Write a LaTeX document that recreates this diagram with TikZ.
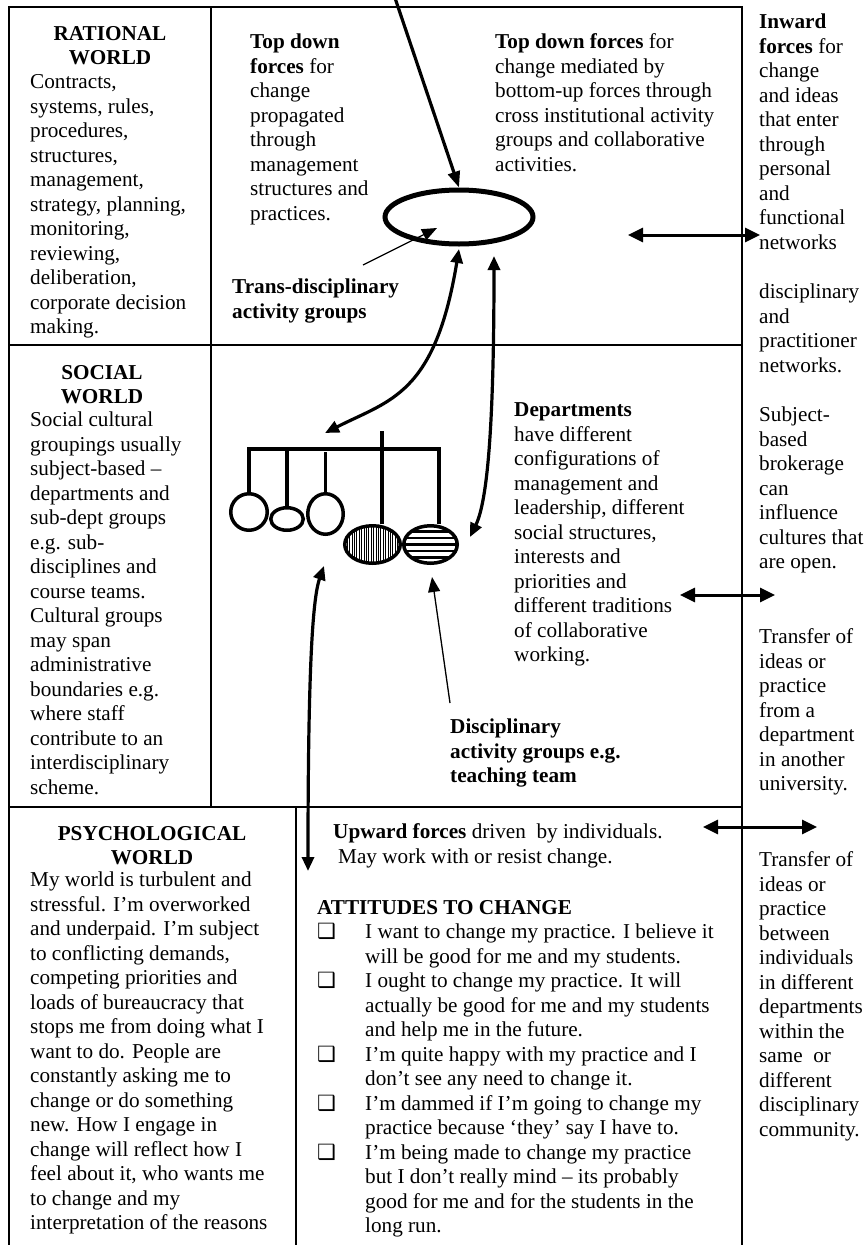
\documentclass[tikz,border=0pt]{standalone}
\usepackage{fontspec}
\setmainfont{Liberation Serif}
\newfontfamily\dejavu{DejaVu Sans}
\usepackage{tikz}
\usetikzlibrary{arrows.meta,shapes.geometric}

\newcommand{\bodyfont}{\fontsize{21.2}{24.5}\selectfont}
\newcommand{\tickbox}{\makebox[48pt][l]{{\dejavu\fontsize{21}{21}\selectfont ❑}}}
\newcommand{\tickgap}{\hspace*{48pt}}

\tikzset{
  frame/.style={line width=2.8pt},
  txt/.style={anchor=north west,inner sep=0pt,align=left,font=\bodyfont},
  title/.style={anchor=north,inner sep=0pt,align=center,font=\bodyfont\bfseries},
  ball/.style={draw,ellipse,line width=3.5pt,inner sep=0pt},
  mobile/.style={line width=3.2pt},
  arr/.style={line width=3.2pt},
  thinarr/.style={line width=1.3pt,-{Triangle[length=15pt,width=12pt]}},
  harr/.style={line width=3pt,{Triangle[length=15pt,width=14pt]}-{Triangle[length=15pt,width=14pt]}},
  vhatch/.style={path picture={\foreach \k in {-30,-27.6,...,30}
      \draw[line width=1.1pt] ([xshift=\k pt]path picture bounding box.north) -- ([xshift=\k pt]path picture bounding box.south);}},
  hhatch/.style={path picture={\foreach \k in {-19.5,-13,...,19.5}
      \draw[line width=2.4pt] ([yshift=\k pt]path picture bounding box.west) -- ([yshift=\k pt]path picture bounding box.east);}}
}

\begin{document}
\begin{tikzpicture}[x=1pt,y=-1pt,>={Triangle[length=14pt,width=12pt]}]
  \useasboundingbox[fill=white] (0,0) rectangle (865,1245);

  % grid of the three worlds
  \draw[frame] (9,1260) -- (9,7) -- (742,7) -- (742,1260);
  \draw[frame] (211,7) -- (211,807);
  \draw[frame] (9,345) -- (742,345);
  \draw[frame] (9,807) -- (742,807);
  \draw[frame] (296,807) -- (296,1260);

  % rational world
  \node[title] (ratTitle) at (110,22.9) {\strut RATIONAL\\WORLD};
  \node[txt] (ratText) at (30,71.4) {\strut Contracts,\\systems, rules,\\procedures,\\structures,\\management,\\strategy, planning,\\monitoring,\\reviewing,\\deliberation,\\corporate decision\\making.};
  \node[txt] (topDown) at (250,31.4) {\strut\textbf{Top down}\\\textbf{forces} for\\change\\propagated\\through\\management\\structures and\\practices.};
  \node[txt] (mediated) at (495,31.4) {\strut\textbf{Top down forces} for\\change mediated by\\bottom-up forces through\\cross institutional activity\\groups and collaborative\\activities.};
  \node[txt,font=\bodyfont\bfseries] (transLabel) at (232,276.4) {\strut Trans-disciplinary\\activity groups};
  \node[ball,line width=5pt,minimum width=148pt,minimum height=54pt] (trans) at (459,217) {};

  % social world
  \node[title] (socTitle) at (102,361.9) {\strut SOCIAL\\WORLD};
  \node[txt] (socText) at (30,409.4) {\strut Social cultural\\groupings usually\\subject-based –\\departments and\\sub-dept groups\\e.g. sub-\\disciplines and\\course teams.\\Cultural groups\\may span\\administrative\\boundaries e.g.\\where staff\\contribute to an\\interdisciplinary\\scheme.};
  \node[txt] (depts) at (514,399.4) {\strut\textbf{Departments}\\have different\\configurations of\\management and\\leadership, different\\social structures,\\interests and\\priorities and\\different traditions\\of collaborative\\working.};
  \node[txt,font=\bodyfont\bfseries] (discLabel) at (450,716.4) {\strut Disciplinary\\activity groups e.g.\\teaching team};

  \node[ball,minimum size=36.5pt] (c1) at (249,512) {};
  \node[ball,minimum width=32.5pt,minimum height=22.5pt] (c2) at (287,519) {};
  \node[ball,minimum width=35.5pt,minimum height=40.5pt] (c3) at (325.5,514) {};
  \node[ball,vhatch,minimum width=55.5pt,minimum height=37.5pt] (d1) at (372.5,544.5) {};
  \node[ball,hhatch,minimum width=53.5pt,minimum height=37.5pt] (d2) at (430.5,544.5) {};
  \coordinate (barL) at (248,449);
  \coordinate (barR) at (439,449);
  \draw[mobile] (c1.north) |- (barR) -- (d2.north -| barR);
  \draw[mobile] (c2.north) -- (c2.north |- barL);
  \draw[mobile] (c3.north) -- ++(0,-40);
  \draw[mobile] (d1.north -| 382,0) -- (382,431);

  % psychological world
  \node[title] (psyTitle) at (152,822.9) {\strut PSYCHOLOGICAL\\WORLD};
  \node[txt] (psyText) at (30,869.4) {\strut My world is turbulent and\\stressful. I’m overworked\\and underpaid. I’m subject\\to conflicting demands,\\competing priorities and\\loads of bureaucracy that\\stops me from doing what I\\want to do. People are\\constantly asking me to\\change or do something\\new. How I engage in\\change will reflect how I\\feel about it, who wants me\\to change and my\\interpretation of the reasons};
  \node[txt] (upward) at (333,821.4) {\strut\textbf{Upward forces} driven~ by individuals.\\\hspace*{5pt}May work with or resist change.};
  \node[txt] (attitudes) at (317,896.9) {\strut\textbf{ATTITUDES TO CHANGE}\\
    \tickbox I want to change my practice. I believe it\\
    \tickgap will be good for me and my students.\\
    \tickbox I ought to change my practice. It will\\
    \tickgap actually be good for me and my students\\
    \tickgap and help me in the future.\\
    \tickbox I’m quite happy with my practice and I\\
    \tickgap don’t see any need to change it.\\
    \tickbox I’m dammed if I’m going to change my\\
    \tickgap practice because ‘they’ say I have to.\\
    \tickbox I’m being made to change my practice\\
    \tickgap but I don’t really mind – its probably\\
    \tickgap good for me and for the students in the\\
    \tickgap long run.};

  % outside column
  \node[txt] (inward) at (759,11.4) {\strut\textbf{Inward}\\\textbf{forces} for\\change\\and ideas\\that enter\\through\\personal\\and\\functional\\networks};
  \node[txt] (networks) at (759,281.4) {\strut disciplinary\\and\\practitioner\\networks.};
  \node[txt] (brokerage) at (759,404.4) {\strut Subject-\\based\\brokerage\\can\\influence\\cultures that\\are open.};
  \node[txt] (transferA) at (759,626.4) {\strut Transfer of\\ideas or\\practice\\from a\\department\\in another\\university.};
  \node[txt] (transferB) at (759,849.4) {\strut Transfer of\\ideas or\\practice\\between\\individuals\\in different\\departments\\within the\\same~ or\\different\\disciplinary\\community.};

  % forces
  \coordinate (topIn) at (394,-5);
  \coordinate (mobTop) at (325,433);
  \coordinate (rightUp) at (494,256);
  \coordinate (rightDown) at (470,537);
  \coordinate (upTip) at (308,871);
  \coordinate (mobBottom) at (324,566);
  \coordinate (tdTail) at (363,265);
  \coordinate (tdTip) at (437,228);
  \coordinate (dgTail) at (450,703);
  \coordinate (dgTip) at (432,577);
  \draw[arr,-{Triangle[length=16pt,width=12pt]}] (topIn) -- (trans.north);
  \draw[arr,<->] ([yshift=-2.5pt]trans.south) .. controls (435,395) and (390,400) .. (mobTop);
  \draw[arr,<->] (rightUp) .. controls (494,420) and (488,500) .. (rightDown);
  \draw[arr,<->] (upTip) .. controls (308,680) and (312,600) .. (mobBottom);
  \draw[thinarr] (tdTail) -- (tdTip);
  \draw[thinarr] (dgTail) -- (dgTip);

  \coordinate (inA) at (628,235);
  \coordinate (outA) at (760,235);
  \coordinate (inB) at (680,595);
  \coordinate (outB) at (775,595);
  \coordinate (inC) at (703,827);
  \coordinate (outC) at (817,827);
  \draw[harr] (inA) -- (outA);
  \draw[harr] (inB) -- (outB);
  \draw[harr] (inC) -- (outC);
\end{tikzpicture}
\end{document}
